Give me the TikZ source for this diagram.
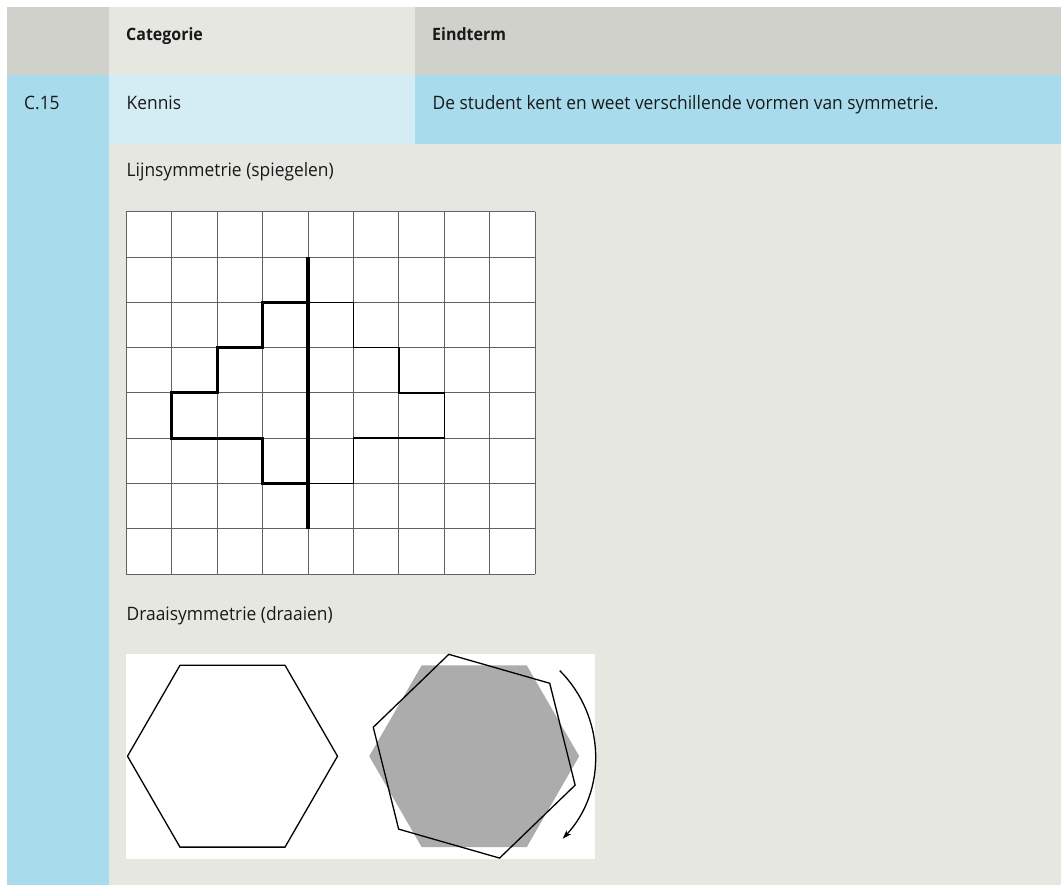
\documentclass[tikz,border=0pt]{standalone}
\usepackage{fontspec}
\setmainfont[FakeStretch=0.94]{Open Sans}
\usetikzlibrary{shapes.geometric,arrows.meta}
\definecolor{hdrdark}{HTML}{D1D1CC}
\definecolor{hdrlight}{HTML}{E7E7E2}
\definecolor{cblue}{HTML}{A8DCEC}
\definecolor{clight}{HTML}{D4EDF4}
\definecolor{panel}{HTML}{E7E7E2}
\definecolor{hexgray}{HTML}{ABACAB}
\tikzset{
  txt/.style={anchor=base west, inner sep=0pt, font=\fontsize{18.5}{22}\selectfont, text=black!90},
  hdr/.style={txt, font=\fontsize{17}{20}\selectfont\bfseries},
  gridline/.style={line width=0.9pt, draw=black!62},
  hexline/.style={draw=black, line width=1.3pt, line join=miter},
  hexbase/.style={regular polygon, regular polygon sides=6, minimum size=210pt, inner sep=0pt, outer sep=0pt}
}
\begin{document}
\begin{tikzpicture}[x=1pt,y=-1pt]
\useasboundingbox (0,0) rectangle (1061,885);
\fill[white] (0,0) rectangle (1061,885);
% table backgrounds
\fill[hdrdark] (7,7) rectangle (109,75);
\fill[hdrlight] (109,7) rectangle (415,75);
\fill[hdrdark] (415,7) rectangle (1061,75);
\fill[cblue] (7,75) rectangle (109,885);
\fill[clight] (109,75) rectangle (415,144);
\fill[cblue] (415,75) rectangle (1061,144);
\fill[panel] (109,144) rectangle (1061,885);
% texts
\node[hdr] (hcat) at (126,41) {Categorie};
\node[hdr] (hend) at (432,41) {Eindterm};
\node[txt] (code) at (24,109.3) {C.15};
\node[txt] (kennis) at (126.5,109.3) {Kennis};
\node[txt] (desc) at (432.5,109.3) {De student kent en weet verschillende vormen van symmetrie.};
\node[txt] (lijn) at (126.5,176.7) {Lijnsymmetrie (spiegelen)};
\node[txt] (draai) at (126.5,620.7) {Draaisymmetrie (draaien)};
% grid
\begin{scope}[shift={(126.3pt,-211.7pt)}, x=45.44pt, y=-45.3pt]
  \fill[white] (0,0) rectangle (9,8);
  \foreach \i in {0,...,9} \draw[gridline] (\i,0) -- (\i,8);
  \foreach \j in {0,...,8} \draw[gridline] (0,\j) -- (9,\j);
  \draw[line width=1.5pt, line join=miter] (4,2) -| (5,3) -| (6,4) -| (7,5) -| (5,6) -- (4,6);
  \draw[line width=3pt, line join=miter] (4,2) -| (3,3) -| (2,4) -| (1,5) -- (3,5) |- (4,6);
  \draw[line width=4.5pt] (4,1) -- (4,7);
\end{scope}
% hexagons
\fill[white] (126,654) rectangle (595,859);
\node[hexbase, hexline] (hexA) at (232.5,756.2) {};
\node[hexbase, fill=hexgray] (hexB) at (474.2,756.2) {};
\node[hexbase, hexline, rotate=-16] (hexC) at (474.2,756.2) {};
\draw[line width=1.3pt, -{Stealth[length=9pt,width=6pt]}] (hexB.center) ++(45:121pt) arc[start angle=45, end angle=-43, radius=121pt];
\end{tikzpicture}
\end{document}
